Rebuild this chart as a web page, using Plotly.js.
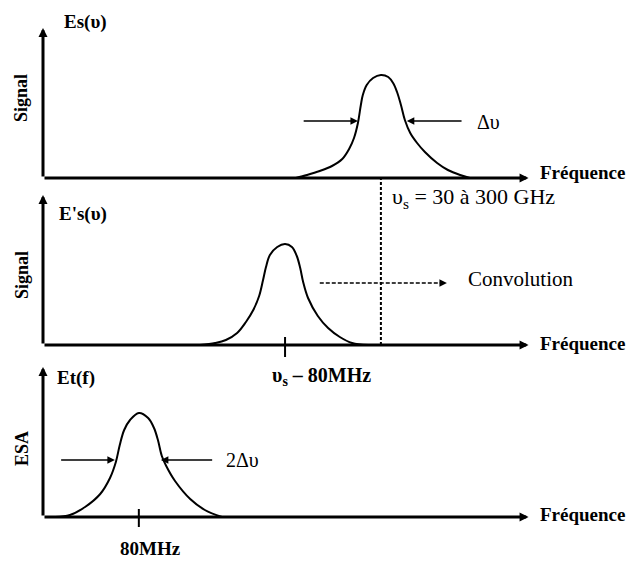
<!DOCTYPE html>
<html>
<head>
<meta charset="utf-8">
<script src="https://cdn.plot.ly/plotly-3.0.1.min.js"></script>
<style>html,body{margin:0;padding:0;background:#fff;}#chart{width:630px;height:561px;}</style>
</head>
<body>
<div id="chart"></div>
<script>
// Panel 1: Es(υ) – signal line centred on υs
const panel1X = [51.7,54.0,56.6,59.1,61.2,62.6,63.6,64.4,65.0,65.4,66.2,67.5,69.1,70.6,71.6,72.4,73.2,74.0,75.1,76.5,78.1,80.6,82.8,85.3,87.3];
const panel1Y = [0,0.03,0.07,0.12,0.19,0.29,0.40,0.55,0.73,0.83,0.93,1.00,1.03,1.01,0.95,0.86,0.73,0.58,0.45,0.35,0.26,0.15,0.08,0.03,0];
// Panel 2: E's(υ) – shifted line centred on υs – 80MHz
const panel2X = [32.1,35.2,37.4,39.7,41.5,43.0,44.2,45.0,45.6,46.4,47.9,49.5,50.9,51.9,52.6,53.2,54.2,56.2,58.3,60.7,63.2,66.5];
const panel2Y = [0,0.02,0.05,0.12,0.23,0.35,0.49,0.65,0.78,0.90,0.98,1.01,0.98,0.89,0.77,0.63,0.47,0.29,0.17,0.08,0.02,0];
// Panel 3: Et(f) – beat note seen on the ESA at 80MHz
const panel3X = [2.5,5.5,8.6,11.7,13.7,14.9,15.7,16.6,17.8,19.6,21.5,22.7,23.5,24.3,25.2,27.0,30.1,33.1,36.6];
const panel3Y = [0,0.02,0.10,0.23,0.39,0.55,0.72,0.87,0.97,1.04,0.99,0.89,0.77,0.61,0.51,0.36,0.18,0.07,0];

const yTitles = ["Signal", "Signal", "ESA"];
const curveNames = ["Es(υ)", "E's(υ)", "Et(f)"];
const xTitle = "Fréquence";
const centreLabels = ["υ<sub>s</sub> = 30 à 300 GHz", "υ<sub>s</sub> – 80MHz", "80MHz"];
const centres = [69.1, 49.5, 19.6];   // line centres (x units)
const widthArrowY = [0.57, 0.57];      // level of the width arrows, panels 1 and 3
const widthArrows1 = [[53.0, 64.4], [85.9, 74.4]];
const widthArrows3 = [[3.4, 14.7], [34.9, 24.1]];
const widthLabels = ["Δυ", "2Δυ"];
const convolutionArrow = [56.6, 82.6, 0.62];
const convolutionLabel = "Convolution";

const W = 630, H = 561;
const px = x => x / W;
const py = y => 1 - y / H;

const serif = "Liberation Serif";
const black = "#000";

const traces = [
  {x: panel1X, y: panel1Y, xaxis: "x", yaxis: "y"},
  {x: panel2X, y: panel2Y, xaxis: "x2", yaxis: "y2"},
  {x: panel3X, y: panel3Y, xaxis: "x3", yaxis: "y3"}
].map(t => Object.assign(t, {
  type: "scatter", mode: "lines",
  line: {color: black, width: 2, shape: "spline", smoothing: 1},
  hoverinfo: "skip", showlegend: false
}));

const xDom = [px(43), px(532)];
const yDoms = [[py(178), py(28)], [py(345), py(195)], [py(517), py(367)]];
const ax = (dom, range) => ({domain: dom, range: range, visible: false, fixedrange: true});

const layout = {
  width: W, height: H, autosize: false,
  margin: {l: 0, r: 0, t: 0, b: 0, pad: 0},
  paper_bgcolor: "#fff", plot_bgcolor: "rgba(0,0,0,0)",
  font: {family: serif, color: black},
  showlegend: false,
  xaxis: ax(xDom, [0, 100]),  yaxis: ax(yDoms[0], [0, 1.5]),
  xaxis2: ax(xDom, [0, 100]), yaxis2: ax(yDoms[1], [0, 1.5]),
  xaxis3: ax(xDom, [0, 100]), yaxis3: ax(yDoms[2], [0, 1.5]),
  shapes: [], annotations: []
};

const ids = [["x", "y"], ["x2", "y2"], ["x3", "y3"]];

function arrow(xr, yr, x0, y0, x1, y1, w, size) {
  return {xref: xr, yref: yr, axref: xr, ayref: yr, x: x1, y: y1, ax: x0, ay: y0,
          text: "", showarrow: true, arrowhead: 2, arrowsize: size, arrowwidth: w,
          arrowcolor: black, standoff: 0, startstandoff: 0};
}
function label(text, xpix, ypix, size, bold, xanchor, angle) {
  const t = bold ? "<b>" + text + "</b>" : text;
  return {xref: "paper", yref: "paper", x: px(xpix), y: py(ypix), text: t,
          showarrow: false, xanchor: xanchor || "left", yanchor: "middle", textangle: angle || 0,
          font: {family: serif, size: size, color: black}};
}

// axes with arrow heads
ids.forEach(([xr, yr]) => {
  layout.annotations.push(arrow(xr, yr, 0, 0, 0, 1.5, 3, 0.6));
  layout.annotations.push(arrow(xr, yr, 0, 0, 99.3, 0, 3, 0.6));
});

// axis titles
layout.annotations.push(label(curveNames[0], 62, 22, 19, true));
layout.annotations.push(label(curveNames[1], 57, 214, 19, true));
layout.annotations.push(label(curveNames[2], 55, 378, 19, true));
layout.annotations.push(label(yTitles[0], 21, 98, 18, true, "center", -90));
layout.annotations.push(label(yTitles[1], 22, 275, 18, true, "center", -90));
layout.annotations.push(label(yTitles[2], 22, 449, 18, true, "center", -90));
layout.annotations.push(label(xTitle, 538, 173, 19, true));
layout.annotations.push(label(xTitle, 538, 343, 19, true));
layout.annotations.push(label(xTitle, 538, 514, 19, true));

// width arrows
widthArrows1.forEach(a => layout.annotations.push(arrow("x", "y", a[0], widthArrowY[0], a[1], widthArrowY[0], 1.5, 1)));
widthArrows3.forEach(a => layout.annotations.push(arrow("x3", "y3", a[0], widthArrowY[1], a[1], widthArrowY[1], 1.5, 1)));
layout.annotations.push(label(widthLabels[0], 475, 122, 20, false));
layout.annotations.push(label(widthLabels[1], 224, 460, 20, false));

// convolution dashed arrow
layout.shapes.push({type: "line", xref: "x2", yref: "y2", x0: convolutionArrow[0], x1: convolutionArrow[1] - 1.2,
  y0: convolutionArrow[2], y1: convolutionArrow[2], line: {color: black, width: 1.3, dash: "4px,2px"}});
layout.annotations.push(arrow("x2", "y2", convolutionArrow[1] - 1.5, convolutionArrow[2], convolutionArrow[1], convolutionArrow[2], 1.5, 1));
layout.annotations.push(label(convolutionLabel, 466, 279, 21, false));

// vertical dashed line at υs
layout.shapes.push({type: "line", xref: "x", yref: "paper", x0: centres[0], x1: centres[0],
  y0: py(345), y1: py(178), line: {color: black, width: 2, dash: "3px,2px"}});

// centre ticks
layout.shapes.push({type: "line", xref: "x2", yref: "paper", x0: centres[1], x1: centres[1], y0: py(357), y1: py(337), line: {color: black, width: 2}});
layout.shapes.push({type: "line", xref: "x3", yref: "paper", x0: centres[2], x1: centres[2], y0: py(527), y1: py(509), line: {color: black, width: 2}});

// centre labels
layout.annotations.push(label(centreLabels[0], 390, 198, 22, false));
layout.annotations.push(label(centreLabels[1], 270, 376, 20, true));
layout.annotations.push(label(centreLabels[2], 150, 548, 19, true, "center"));

Plotly.newPlot("chart", traces, layout, {staticPlot: true, displayModeBar: false});
</script>
</body>
</html>
